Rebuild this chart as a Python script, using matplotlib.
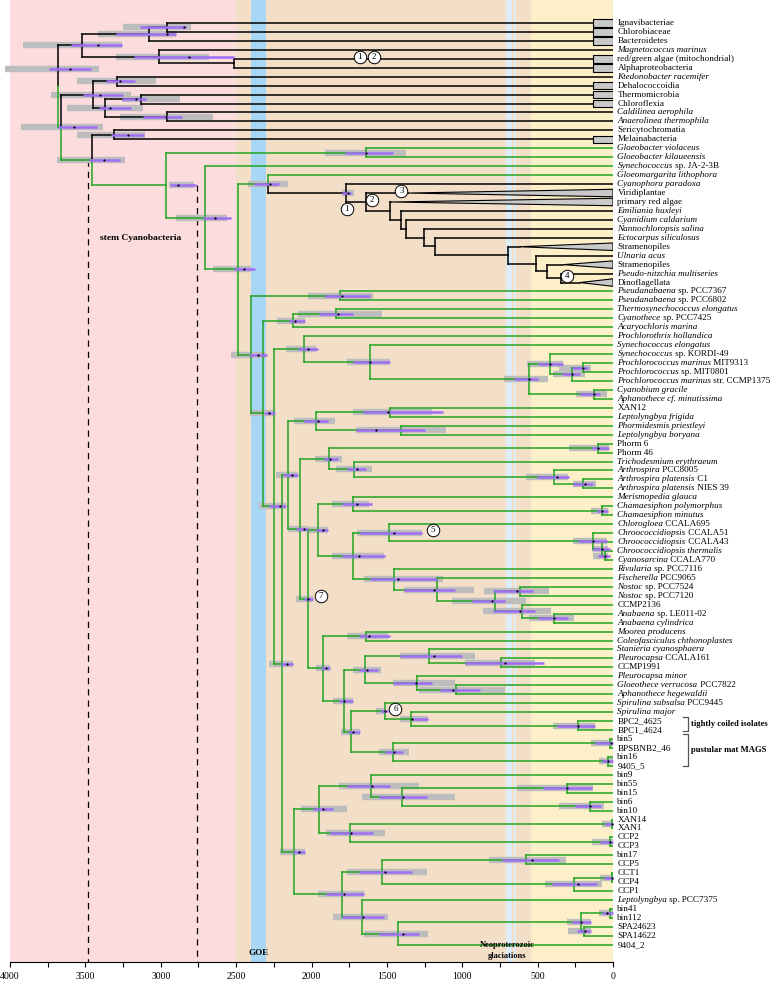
import matplotlib
matplotlib.use("Agg")
import matplotlib.pyplot as plt
from matplotlib.patches import Polygon

plt.rcParams['font.family'] = ['Liberation Serif', 'DejaVu Serif']

# tip labels, top to bottom: (italic part, roman part)
tips = [
    ("", "Ignavibacteriae"), ("", "Chlorobiaceae"), ("", "Bacteroidetes"),
    ("Magnetococcus marinus", ""), ("", "red/green algae (mitochondrial)"),
    ("", "Alphaproteobacteria"), ("Ktedonobacter racemifer", ""),
    ("", "Dehalococcoidia"), ("", "Thermomicrobia"), ("", "Chloroflexia"),
    ("Caldilinea aerophila", ""), ("Anaerolinea thermophila", ""),
    ("", "Sericytochromatia"), ("", "Melainabacteria"),
    ("Gloeobacter violaceus", ""), ("Gloeobacter kilaueensis", ""),
    ("Synechococcus", " sp. JA-2-3B"), ("Gloeomargarita lithophora", ""),
    ("Cyanophora paradoxa", ""), ("", "Viridiplantae"), ("", "primary red algae"),
    ("Emiliania huxleyi", ""), ("Cyanidium caldarium", ""),
    ("Nannochloropsis salina", ""), ("Ectocarpus siliculosus", ""),
    ("", "Stramenopiles"), ("Ulnaria acus", ""), ("", "Stramenopiles"),
    ("Pseudo-nitzchia multiseries", ""), ("", "Dinoflagellata"),
    ("Pseudanabaena", " sp. PCC7367"), ("Pseudanabaena", " sp. PCC6802"),
    ("Thermosynechococcus elongatus", ""), ("Cyanothece", " sp. PCC7425"),
    ("Acaryochloris marina", ""), ("Prochlorothrix hollandica", ""),
    ("Synechococcus elongatus", ""), ("Synechococcus", " sp. KORDI-49"),
    ("Prochlorococcus marinus", " MIT9313"), ("Prochlorococcus", " sp. MIT0801"),
    ("Prochlorococcus marinus", " str. CCMP1375"), ("Cyanobium gracile", ""),
    ("Aphanothece cf. minutissima", ""), ("", "XAN12"),
    ("Leptolyngbya frigida", ""), ("Phormidesmis priestleyi", ""),
    ("Leptolyngbya boryana", ""), ("", "Phorm 6"), ("", "Phorm 46"),
    ("Trichodesmium erythraeum", ""), ("Arthrospira", " PCC8005"),
    ("Arthrospira platensis", " C1"), ("Arthrospira platensis", " NIES 39"),
    ("Merismopedia glauca", ""), ("Chamaesiphon polymorphus", ""),
    ("Chamaesiphon minutus", ""), ("Chlorogloea", " CCALA695"),
    ("Chroococcidiopsis", " CCALA51"), ("Chroococcidiopsis", " CCALA43"),
    ("Chroococcidiopsis thermalis", ""), ("Cyanosarcina", " CCALA770"),
    ("Rivularia", " sp. PCC7116"), ("Fischerella", " PCC9065"),
    ("Nostoc", " sp. PCC7524"), ("Nostoc", " sp. PCC7120"), ("", "CCMP2136"),
    ("Anabaena", " sp. LE011-02"), ("Anabaena cylindrica", ""),
    ("Moorea producens", ""), ("Coleofasciculus chthonoplastes", ""),
    ("Stanieria cyanosphaera", ""), ("Pleurocapsa", " CCALA161"), ("", "CCMP1991"),
    ("Pleurocapsa minor", ""), ("Gloeothece verrucosa", " PCC7822"),
    ("Aphanothece hegewaldii", ""), ("Spirulina subsalsa", " PCC9445"),
    ("Spirulina major", ""), ("", "BPC2_4625"), ("", "BPC1_4624"),
    ("", "bin5"), ("", "BPSBNB2_46"), ("", "bin16"), ("", "9405_5"),
    ("", "bin9"), ("", "bin55"), ("", "bin15"), ("", "bin6"), ("", "bin10"),
    ("", "XAN14"), ("", "XAN1"), ("", "CCP2"), ("", "CCP3"), ("", "bin17"),
    ("", "CCP5"), ("", "CCT1"), ("", "CCP4"), ("", "CCP1"),
    ("Leptolyngbya", " sp. PCC7375"), ("", "bin41"), ("", "bin112"),
    ("", "SPA24623"), ("", "SPA14622"), ("", "9404_2"),
]

# tips with black (non-cyanobacterial) branches
black_tips = set(range(0, 14)) | set(range(18, 30))

# collapsed outgroup clades drawn as boxes: tip -> age where the box starts
boxed = {0: 130, 1: 130, 2: 130, 4: 130, 5: 130, 7: 130, 8: 130, 9: 130, 13: 130}
# collapsed plastid clades drawn as wedges: tip -> age where the wedge starts
wedged = {19: 1360, 20: 1470, 25: 620, 27: 330, 29: 220}

# internal nodes: (name, child a, child b, age in Ma)
nodes = [
    ("o1", 0, 1, 2958), ("o2", "o1", 2, 3077), ("o3", 4, 5, 2514),
    ("o4", 3, "o3", 3011), ("o5", "o2", "o4", 3520),
    ("c1", 6, 7, 3289), ("c2", 8, 9, 3130), ("c3", 10, 11, 2958),
    ("c4", "c2", "c3", 3368), ("c5", "c1", "c4", 3447),
    ("s1", 12, 13, 3309), ("s2", "s1", "cy0", 3454),
    ("r1", "c5", "s2", 3659), ("root", "o5", "r1", 3679),
    ("cy0", "g1", "cy1", 2964), ("g1", 14, 15, 1636),
    ("cy1", 16, "cy2", 2706), ("cy2", "gm", "cy3", 2490),
    ("gm", 17, "P1", 2291), ("P1", 18, "P2", 1773), ("P2", 19, "P3", 1636),
    ("P3", 20, "P4", 1476), ("P4", 21, "P5", 1403), ("P5", 22, "P6", 1372),
    ("P6", 23, "P7", 1251), ("P7", 24, "P8", 1184), ("P8", 25, "P9", 695),
    ("P9", 26, "P10", 510), ("P10", 27, "P11", 437), ("P11", 28, 29, 344),
    ("cy3", "pa", "cy4", 2402), ("pa", 30, 31, 1813),
    ("cy4", "ac", "cy5", 2319), ("ac", "tc", 34, 2126), ("tc", 32, 33, 1835),
    ("cy5", "pt", "cy6", 2248), ("pt", 35, "se", 2051), ("se", 36, "pro", 1615),
    ("pro", "pk", "cg", 556), ("pk", 37, "pm", 417), ("pm", "pm2", 40, 273),
    ("pm2", 38, 39, 200), ("cg", 41, 42, 126),
    ("cy6", "cy7", "bot", 2199), ("cy7", "lp", "cy8", 2155),
    ("lp", "xl", "pl", 1972), ("xl", 43, 44, 1482), ("pl", 45, 46, 1405),
    ("cy8", "ta", "n7", 2076), ("ta", "ph", "tr", 1884), ("ph", 47, 48, 99),
    ("tr", 49, "ar", 1720), ("ar", 50, "ar2", 390), ("ar2", 51, 52, 200),
    ("n7", "ci", "n7b", 2025), ("ci", "mc", "k", 1957),
    ("mc", 53, "ch", 1725), ("ch", 54, 55, 73),
    ("k", "cc", "rn", 1725), ("cc", 56, "cr", 1487), ("cr", 57, "cr2", 132),
    ("cr2", 58, "cr3", 75), ("cr3", 59, 60, 53),
    ("rn", 61, "fn", 1454), ("fn", 62, "nn", 1167), ("nn", "no", "an", 785),
    ("no", 63, 64, 620), ("an", 65, "ab", 604), ("ab", 66, 67, 390),
    ("n7b", "mo", "pc", 1921), ("mo", 68, 69, 1636), ("pc", "sp", "sb", 1785),
    ("sp", "st", "pm3", 1646), ("st", 70, "pl2", 1218), ("pl2", 71, 72, 743),
    ("pm3", 73, "gh", 1299), ("gh", 74, 75, 1039),
    ("sb", "s6", "bm", 1736), ("s6", 76, "sm", 1513), ("sm", 77, "bpc", 1339),
    ("bpc", 78, 79, 232), ("bm", "b5", "b16", 1458),
    ("b5", 80, 81, 20), ("b16", 82, 83, 33),
    ("bot", "b9", "cc2", 2115), ("b9", "bb", "xc", 1950),
    ("bb", 84, "b55", 1603), ("b55", "bs", "b6", 1398),
    ("bs", 85, 86, 306), ("b6", 87, 88, 152),
    ("xc", "xa", "cp", 1747), ("xa", 89, 90, 7), ("cp", 91, 92, 20),
    ("cc2", "c17", "lb", 1800), ("c17", "b17", "c4n", 1531),
    ("b17", 93, 94, 576), ("c4n", "ct", 97, 256), ("ct", 95, 96, 7),
    ("lb", 98, "sp2", 1668), ("sp2", "bs2", 103, 1425),
    ("bs2", "b41", "spa", 212), ("b41", 99, 100, 20), ("spa", 101, 102, 192),
]

# node age intervals (Ma): grey low, grey high, purple low, purple high, point
bars = {
    "o1": (3250, 2800, 3135, 2830, 2845), "o2": (3415, 2900, 3295, 2900, 2958),
    "o4": (3295, 2680, 3175, 2515, 2810), "o5": (3915, 3260, 3595, 3260, 3415),
    "c1": (3555, 3030, 3360, 3170, 3270), "c2": (3260, 2870, 3260, 3095, 3165),
    "c3": (3270, 2655, 3115, 2860, 2965), "c4": (3620, 3115, 3410, 3195, 3335),
    "c5": (3730, 3195, 3515, 3250, 3400), "s1": (3555, 3105, 3330, 3110, 3220),
    "s2": (3690, 3235, 3475, 3270, 3375), "r1": (3930, 3380, 3680, 3420, 3575),
    "root": (4030, 3410, 3740, 3460, 3600), "cy0": (2945, 2780, 2940, 2765, 2885),
    "g1": (1910, 1375, 1780, 1460, 1640), "cy1": (2900, 2560, 2720, 2535, 2640),
    "cy2": (2655, 2400, 2515, 2375, 2450), "gm": (2420, 2155, 2380, 2215, 2275),
    "P1": (1795, 1720, 1795, 1735, 1760), "cy3": (2535, 2305, 2415, 2295, 2355),
    "pa": (2020, 1595, 1910, 1610, 1800), "cy4": (2410, 2245, 2315, 2245, 2285),
    "ac": (2230, 2045, 2150, 2045, 2110), "tc": (2090, 1530, 1950, 1725, 1825),
    "cy5": (2350, 2170, 2285, 2170, 2210), "pt": (2170, 1970, 2090, 1960, 2020),
    "se": (1765, 1480, 1725, 1480, 1615), "pro": (720, 430, 660, 495, 560),
    "pk": (570, 330, 495, 330, 415), "pm": (395, 185, 335, 220, 270),
    "pm2": (355, 145, 270, 165, 200), "cg": (245, 40, 220, 85, 125),
    "cy6": (2285, 2125, 2205, 2125, 2165), "cy7": (2235, 2090, 2190, 2090, 2130),
    "lp": (2115, 1845, 2050, 1890, 1960), "xl": (1725, 1200, 1660, 1125, 1495),
    "pl": (1705, 1105, 1705, 1250, 1570), "cy8": (2155, 2025, 2100, 2025, 2050),
    "ta": (1980, 1795, 1920, 1825, 1875), "ph": (290, 25, 140, 25, 100),
    "tr": (1840, 1600, 1765, 1640, 1700), "ar": (580, 300, 505, 290, 370),
    "ar2": (265, 110, 265, 130, 185), "n7": (2100, 1990, 2050, 1990, 2020),
    "ci": (2025, 1890, 1970, 1890, 1925), "mc": (1865, 1620, 1795, 1600, 1700),
    "ch": (145, 35, 105, 35, 75), "k": (1865, 1520, 1795, 1515, 1685),
    "cc": (1695, 1270, 1680, 1270, 1455), "cr": (265, 40, 230, 40, 130),
    "cr2": (140, 35, 130, 20, 75), "cr3": (130, 35, 100, 20, 55),
    "rn": (1655, 1130, 1610, 1165, 1425), "fn": (1385, 925, 1385, 1050, 1185),
    "nn": (1065, 580, 935, 715, 800), "no": (855, 425, 795, 530, 640),
    "an": (860, 410, 795, 515, 615), "ab": (555, 260, 495, 300, 390),
    "n7b": (1970, 1875, 1940, 1875, 1905), "mo": (1765, 1495, 1685, 1480, 1620),
    "pc": (1855, 1725, 1820, 1725, 1785), "sp": (1725, 1540, 1685, 1560, 1630),
    "st": (1410, 915, 1410, 1000, 1190), "pl2": (985, 515, 985, 455, 715),
    "pm3": (1460, 1050, 1460, 1200, 1305), "gh": (1285, 715, 1145, 885, 1060),
    "sb": (1805, 1680, 1760, 1680, 1725), "s6": (1570, 1515, 1540, 1495, 1515),
    "sm": (1415, 1230, 1335, 1225, 1335), "bpc": (395, 120, 370, 120, 230),
    "bm": (1555, 1355, 1510, 1390, 1450), "b5": (145, 0, 120, 0, 15),
    "b16": (95, 0, 75, 0, 35), "bot": (2210, 2040, 2125, 2040, 2085),
    "b9": (2070, 1765, 1990, 1855, 1925), "bb": (1820, 1290, 1765, 1480, 1600),
    "b55": (1665, 1050, 1550, 1235, 1390), "bs": (640, 130, 465, 140, 305),
    "b6": (355, 60, 250, 80, 150), "xc": (1905, 1515, 1875, 1595, 1740),
    "xa": (75, 0, 55, 0, 7), "cp": (140, 0, 85, 0, 20),
    "cc2": (1960, 1650, 1905, 1650, 1785), "c17": (1765, 1235, 1685, 1335, 1515),
    "b17": (820, 310, 735, 355, 535), "c4n": (450, 75, 405, 105, 230),
    "ct": (85, 0, 60, 0, 7), "lb": (1855, 1490, 1795, 1520, 1660),
    "sp2": (1650, 1230, 1550, 1290, 1395), "bs2": (305, 145, 270, 145, 210),
    "b41": (95, 0, 75, 0, 40), "spa": (300, 145, 240, 145, 185),
}
bar_row = {"root": 5.1}  # the root interval is drawn above the node

# numbered events: (age, row, label)
events = [(1681, 3.8, "1"), (1588, 3.8, "2"), (1767, 20.8, "1"), (1597, 19.8, "2"),
          (1403, 18.8, "3"), (302, 28.3, "4"), (1196, 56.6, "5"),
          (1443, 76.6, "6"), (1939, 64.0, "7")]

# background time intervals (Ma)
eons = [(4000, 2500, "#fcdcdc"), (2500, 541, "#f3dec8"), (541, 0, "#fdefc8")]
goe = (2400, 2300)
glaciations = [(712, 668), (660, 645)]
stem_range = (3480, 2760)

GREEN = "#22a522"
children = {n[0]: (n[1], n[2]) for n in nodes}
ages = {n[0]: n[3] for n in nodes}


def ypos(n):
    if isinstance(n, int):
        return n
    a, b = children[n]
    return (ypos(a) + ypos(b)) / 2


def leaves(n):
    if isinstance(n, int):
        return [n]
    a, b = children[n]
    return leaves(a) + leaves(b)


def colour(n):
    return "black" if all(t in black_tips for t in leaves(n)) else GREEN


def end_age(n):
    if isinstance(n, int):
        return boxed.get(n, wedged.get(n, 0))
    return ages[n]


fig = plt.figure(figsize=(7.72, 9.81), dpi=100)
ax = fig.add_axes([10 / 772, 19 / 981, 603 / 772, 962 / 981])
ax.set_xlim(4000, 0)
ax.set_ylim(104.92, -2.57)

for lo, hi, c in eons:
    ax.axvspan(lo, hi, color=c, lw=0, zorder=0)
ax.axvspan(goe[0], goe[1], color="#a8d6f5", lw=0, zorder=0.5)
for lo, hi in glaciations:
    ax.axvspan(lo, hi, color="#dcedf7", lw=0, zorder=0.5)

# dashed lines bracketing stem Cyanobacteria
ax.plot([stem_range[0]] * 2, [ypos("s2"), 104.9], ls=(0, (5, 4)), color="black", lw=0.9, zorder=1)
ax.plot([stem_range[1]] * 2, [ypos("cy0"), 104.9], ls=(0, (5, 4)), color="black", lw=0.9, zorder=1)

# branches
for name, a, b, age in nodes:
    y = ypos(name)
    for c in (a, b):
        cy = ypos(c)
        col = colour(c)
        ax.plot([age, age], [y, cy], color=col, lw=1.1, zorder=3, solid_capstyle="projecting")
        ax.plot([age, end_age(c)], [cy, cy], color=col, lw=1.1, zorder=3, solid_capstyle="projecting")

# collapsed clades
for t, start in boxed.items():
    box = Polygon([(start, t - 0.42), (0, t - 0.42), (0, t + 0.42), (start, t + 0.42)],
                  closed=True, facecolor="#c9c9c9", edgecolor="black", lw=0.8, zorder=3.5)
    ax.add_patch(box)
for t, start in wedged.items():
    tri = Polygon([(start, t), (0, t - 0.42), (0, t + 0.42)], closed=True,
                  facecolor="#c9c9c9", edgecolor="black", lw=0.8, zorder=3.5)
    ax.add_patch(tri)

# node age intervals
for name, (g0, g1, p0, p1, pt) in bars.items():
    y = bar_row.get(name, ypos(name))
    ax.plot([g0, g1], [y, y], color="#bdbdbd", lw=4.6, solid_capstyle="butt", zorder=2, clip_on=False)
    ax.plot([p0, p1], [y, y], color="#a06ef5", lw=1.8, solid_capstyle="butt", zorder=4, clip_on=False)
    ax.plot(pt, y, "o", color="black", ms=1.6, mec="none", zorder=5)

for age, row, lab in events:
    ax.plot(age, row, "o", ms=9, mfc="white", mec="black", mew=0.7, zorder=6)
    ax.text(age, row, lab, ha="center", va="center", fontsize=6.5, zorder=7)

# tip labels
for i, (it, rm) in enumerate(tips):
    anchor = ax.annotate(it if it else rm, xy=(0, i), xytext=(3.2, 0),
                         textcoords="offset points", va="center", ha="left",
                         fontsize=6.6, style="italic" if it else "normal",
                         annotation_clip=False)
    if it and rm:
        ax.annotate(rm, xy=(1, 0), xycoords=anchor, va="bottom", ha="left",
                    fontsize=6.6, annotation_clip=False)

# group brackets
groups = [(77.5, 79.1, "tightly coiled isolates"), (79.4, 83.0, "pustular mat MAGS")]
for y0, y1, lab in groups:
    ax.plot([-465, -495, -495, -465], [y0, y0, y1, y1], color="#555555", lw=0.9, clip_on=False)
    ax.text(-520, (y0 + y1) / 2, lab, ha="left", va="center", fontsize=6.2,
            fontweight="bold")

ax.text(3133, 24.0, "stem Cyanobacteria", ha="center", va="center", fontsize=6.8, fontweight="bold")
ax.text(2350, 103.9, "GOE", ha="center", va="center", fontsize=6.5, fontweight="bold")
ax.text(700, 103.6, "Neoproterozoic\nglaciations", ha="center", va="center",
        fontsize=6.0, fontweight="bold", linespacing=1.5)

for s in ["left", "right", "top"]:
    ax.spines[s].set_visible(False)
ax.spines["bottom"].set_linewidth(0.8)
ax.set_yticks([])
ax.set_xticks(range(0, 4001, 500))
ax.set_xticks(range(0, 4001, 250), minor=True)
ax.tick_params(axis="x", which="both", direction="out", length=3.5, width=0.8, labelsize=7)

fig.savefig("out.png", dpi=100)
